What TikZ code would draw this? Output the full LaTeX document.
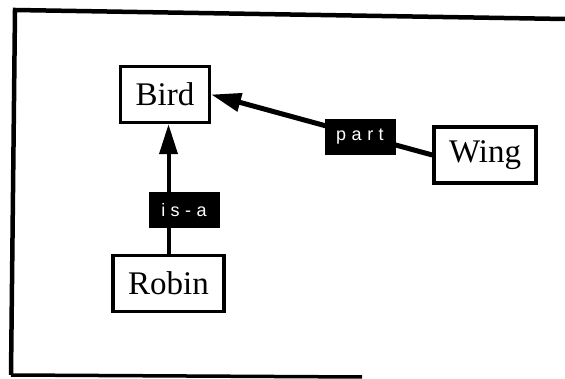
\documentclass[tikz,border=0pt]{standalone}
\usepackage{fontspec}
\setmainfont{Liberation Serif}
\newfontfamily\lblfont{Liberation Sans}
\usetikzlibrary{arrows.meta}
\begin{document}
\begin{tikzpicture}[x=1pt,y=-1pt,
  concept/.style={draw, line width=3.5pt, fill=white, inner xsep=15pt, inner ysep=0pt,
    minimum height=56pt, font=\fontsize{33}{36}\selectfont},
  relbox/.style={fill=black, text=white, inner sep=0pt, minimum width=71pt,
    minimum height=36pt, font=\lblfont\fontsize{18}{20}\selectfont},
  link/.style={line width=5pt},
  head/.style={-{Triangle[length=30pt,width=18pt]}}]
\useasboundingbox (0,0) rectangle (565,379);
% outer frame (slightly skewed)
\draw[line width=4.5pt] (565,19) -- (15,10) -- (11,375);
\draw[line width=3.5pt] (11,375) -- (362,377);
% concepts
\node[concept] (bird)  at (165,94.5)  {Bird};
\node[concept] (wing)  at (485,155)   {Wing};
\node[concept] (robin) at (168.5,283.5) {Robin};
% relations
\draw[link, head] (wing.west) -- (bird.east);
\draw[line width=4pt, head] (robin.north) -- (robin.north |- bird.south);
\node[relbox] (part) at (360,137) {p\kern5.5pt a\kern5.5pt r\kern5.5pt t};
\node[relbox] (isa)  at (184,210) {i\kern5.5pt s\kern5.5pt -\kern5.5pt a};
\end{tikzpicture}
\end{document}
